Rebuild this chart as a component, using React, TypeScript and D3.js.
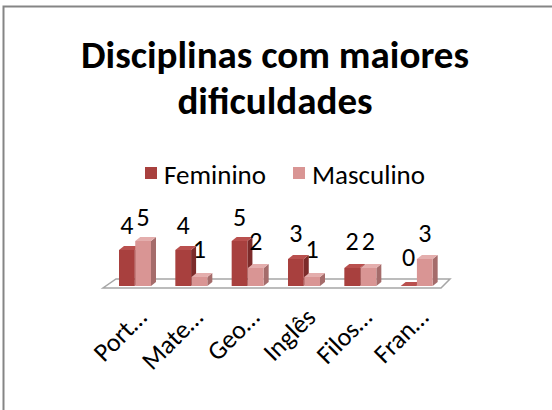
import React from "react";
import * as d3 from "d3";

const categories = ["Port…", "Mate…", "Geo…", "Inglês", "Filos…", "Fran…"];
const series = ["Feminino", "Masculino"];
const feminino = [4, 4, 5, 3, 2, 0];
const masculino = [5, 1, 2, 1, 2, 3];
const titleLines = ["Disciplinas com maiores", "dificuldades"];

const W = 552;
const H = 410;
const FONT = "Carlito, Calibri, Lato, sans-serif";

const colors = {
  Feminino: { front: "#A8403E", top: "#B9504E", side: "#7C2B2A" },
  Masculino: { front: "#D99594", top: "#E4AEAD", side: "#A56C6B" },
};

export default function App() {
  const x = d3.scaleBand<string>().domain(categories).range([103, 441]);
  const inner = d3.scaleBand<string>().domain(series).range([16, 48]).paddingInner(0.03);
  const y = d3.scaleLinear().domain([0, 5]).range([286, 241]);
  const labelY = d3.scaleLinear().domain([0, 5]).range([266, 226]);
  const dx = 5;
  const dy = -4;
  const [r0, r1] = x.range();
  const floorFront = y(0) + 2;
  const floorBack = floorFront - 9;
  const floorPts: [number, number][] = [
    [r0, floorFront],
    [r1, floorFront],
    [r1 + 9, floorBack],
    [r0 + 13, floorBack],
  ];
  const line = d3.line();

  const bars: { c: string; s: string; v: number }[] = [];
  categories.forEach((c, i) => {
    bars.push({ c, s: "Feminino", v: feminino[i] });
    bars.push({ c, s: "Masculino", v: masculino[i] });
  });

  return (
    <svg width={W} height={H} style={{ position: "absolute", left: 0, top: 0, background: "#fff" }}>
      <rect x={0} y={0} width={W} height={H} fill="#fff" />
      <path d={`M3.5,${H} L3.5,6.5 L${W},6.5`} fill="none" stroke="#858585" strokeWidth={2} />
      {titleLines.map((t, i) => (
        <text
          key={t}
          x={275}
          y={68 + i * 46}
          textAnchor="middle"
          fontFamily={FONT}
          fontWeight="bold"
          fontSize={39}
          fill="#000"
        >
          {t}
        </text>
      ))}
      {/* legend */}
      {series.map((s, i) => {
        const lx = i === 0 ? 145 : 293;
        return (
          <g key={s}>
            <rect x={lx} y={167} width={12} height={12} fill={colors[s as keyof typeof colors].front} />
            <text x={lx + 19} y={184} fontFamily={FONT} fontSize={27} fill="#000">
              {s}
            </text>
          </g>
        );
      })}
      {/* floor */}
      <path d={line(floorPts) + "Z"} fill="#fff" stroke="#A6A6A6" strokeWidth={1.5} />
      {/* bars */}
      {bars.map((b) => {
        const bx = (x(b.c) as number) + (inner(b.s) as number);
        const w = inner.bandwidth();
        const yt = y(b.v);
        const yb = y(0);
        const col = colors[b.s as keyof typeof colors];
        const top: [number, number][] = [
          [bx, yt],
          [bx + dx, yt + dy],
          [bx + w + dx, yt + dy],
          [bx + w, yt],
        ];
        const side: [number, number][] = [
          [bx + w, yt],
          [bx + w + dx, yt + dy],
          [bx + w + dx, yb + dy],
          [bx + w, yb],
        ];
        return (
          <g key={b.c + b.s}>
            <path d={line(side) + "Z"} fill={col.side} />
            <rect x={bx} y={yt} width={w} height={yb - yt} fill={col.front} />
            <path d={line(top) + "Z"} fill={col.top} />
          </g>
        );
      })}
      {/* value labels */}
      {bars.map((b) => {
        const bx = (x(b.c) as number) + (inner(b.s) as number) + inner.bandwidth() / 2;
        return (
          <text
            key={"l" + b.c + b.s}
            x={bx}
            y={labelY(b.v)}
            textAnchor="middle"
            fontFamily={FONT}
            fontSize={26}
            fill="#000"
          >
            {b.v}
          </text>
        );
      })}
      {/* category labels */}
      {categories.map((c) => {
        const cx = (x(c) as number) + x.bandwidth() / 2 + 17;
        const cy = 319;
        return (
          <text
            key={"c" + c}
            transform={`translate(${cx},${cy}) rotate(-45)`}
            textAnchor="end"
            fontFamily={FONT}
            fontSize={26}
            fill="#000"
          >
            {c}
          </text>
        );
      })}
    </svg>
  );
}
